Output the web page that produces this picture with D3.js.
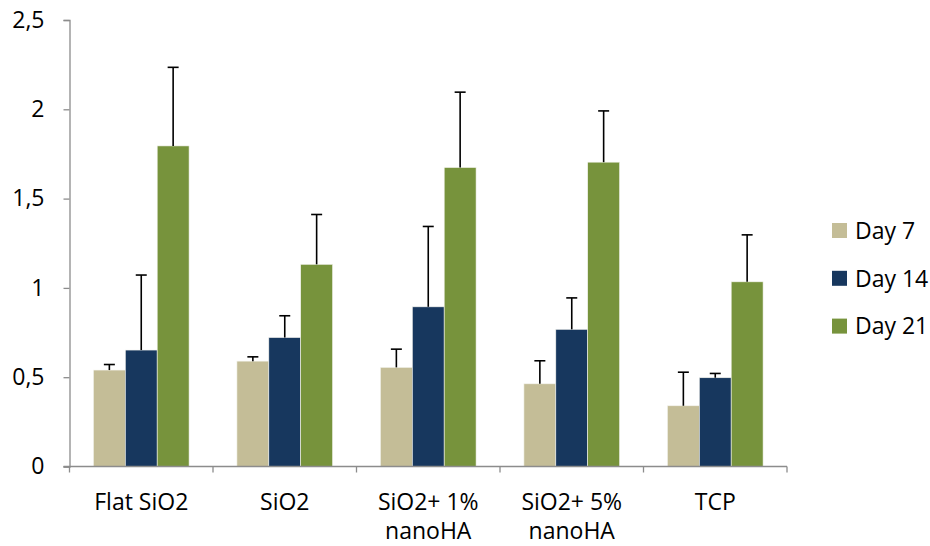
<!DOCTYPE html>
<html><head><meta charset="utf-8">
<script src="https://cdn.jsdelivr.net/npm/d3@7"></script>
<style>body{margin:0;background:#fff}svg{display:block}text{font-family:"Open Sans","Noto Sans",sans-serif;fill:#000}</style>
</head><body><svg id="c" width="930" height="546"></svg>
<script>
const categories = [["Flat SiO2"],["SiO2"],["SiO2+ 1%","nanoHA"],["SiO2+ 5%","nanoHA"],["TCP"]];
const seriesNames = ["Day 7","Day 14","Day 21"];
const day7 = [0.54, 0.59, 0.555, 0.463, 0.34];
const day14 = [0.652, 0.722, 0.894, 0.768, 0.497];
const day21 = [1.795, 1.132, 1.674, 1.704, 1.034];
const err7 = [0.031, 0.024, 0.102, 0.129, 0.188];
const err14 = [0.42, 0.122, 0.45, 0.176, 0.024];
const err21 = [0.44, 0.279, 0.422, 0.287, 0.263];
const yTicks = [0, 0.5, 1, 1.5, 2, 2.5];
const colors = ["#C4BD97", "#17375E", "#77933C"];

(function () {
const values = [day7, day14, day21];
const errors = [err7, err14, err21];
const svg = d3.select("#c");
const mLeft = 69.5, mRight = 787, mTop = 20, mBottom = 466.5;
const fs = 23;
const x = d3.scaleBand().domain(d3.range(categories.length)).range([mLeft, mRight]).paddingInner(0).paddingOuter(0);
const y = d3.scaleLinear().domain([0, 2.5]).range([mBottom, mTop]);
const bw = x.bandwidth() / 4.5;
const fmt = v => String(v).replace(".", ",");

values.forEach((vals, s) => {
  svg.append("g").selectAll("rect").data(vals).join("rect")
    .attr("x", (d, i) => x(i) + x.bandwidth() / 2 - 1.5 * bw + s * bw)
    .attr("y", d => y(d))
    .attr("width", bw)
    .attr("height", d => y(0) - y(d))
    .attr("fill", colors[s])
    .attr("stroke", "#f4f4ee").attr("stroke-width", 0.6);
});
values.forEach((vals, s) => {
  const g = svg.append("g").attr("stroke", "#000").attr("stroke-width", 1.6);
  vals.forEach((v, i) => {
    const cx = x(i) + x.bandwidth() / 2 - 1.5 * bw + s * bw + bw / 2;
    const yt = y(v + errors[s][i]);
    g.append("line").attr("x1", cx).attr("x2", cx).attr("y1", y(v)).attr("y2", yt);
    g.append("line").attr("x1", cx - 5.5).attr("x2", cx + 5.5).attr("y1", yt).attr("y2", yt);
  });
});

const axisColor = "#8c8c8c";
const ya = svg.append("g").attr("transform", `translate(${mLeft},0)`)
  .call(d3.axisLeft(y).tickValues(yTicks).tickFormat(fmt).tickSize(6).tickPadding(19));
ya.select(".domain").attr("stroke", axisColor).attr("stroke-width", 1.3);
ya.selectAll(".tick line").attr("stroke", axisColor).attr("stroke-width", 1.3);
ya.selectAll(".tick text").attr("font-size", fs).style("font-family", '"Open Sans",sans-serif');

const xg = svg.append("g");
xg.append("line").attr("x1", mLeft - 6).attr("x2", mRight).attr("y1", mBottom).attr("y2", mBottom)
  .attr("stroke", axisColor).attr("stroke-width", 1.3);
d3.range(categories.length + 1).forEach(i => {
  const xx = i < categories.length ? x(i) : mRight;
  xg.append("line").attr("x1", xx).attr("x2", xx).attr("y1", mBottom).attr("y2", mBottom + 6)
    .attr("stroke", axisColor).attr("stroke-width", 1.3);
});
categories.forEach((lines, i) => {
  const t = xg.append("text").attr("text-anchor", "middle").attr("font-size", fs)
    .attr("x", x(i) + x.bandwidth() / 2).attr("y", 509.5);
  lines.forEach((l, j) => t.append("tspan").attr("x", x(i) + x.bandwidth() / 2).attr("dy", j ? 29 : 0).text(l));
});

const lg = svg.append("g");
seriesNames.forEach((n, i) => {
  const cy = 230.5 + i * 47.8;
  lg.append("rect").attr("x", 832).attr("y", cy - 7.5).attr("width", 15).attr("height", 15).attr("fill", colors[i]);
  lg.append("text").attr("x", 855).attr("y", cy).attr("dy", "0.36em").attr("font-size", fs).text(n);
});
})();
</script></body></html>
